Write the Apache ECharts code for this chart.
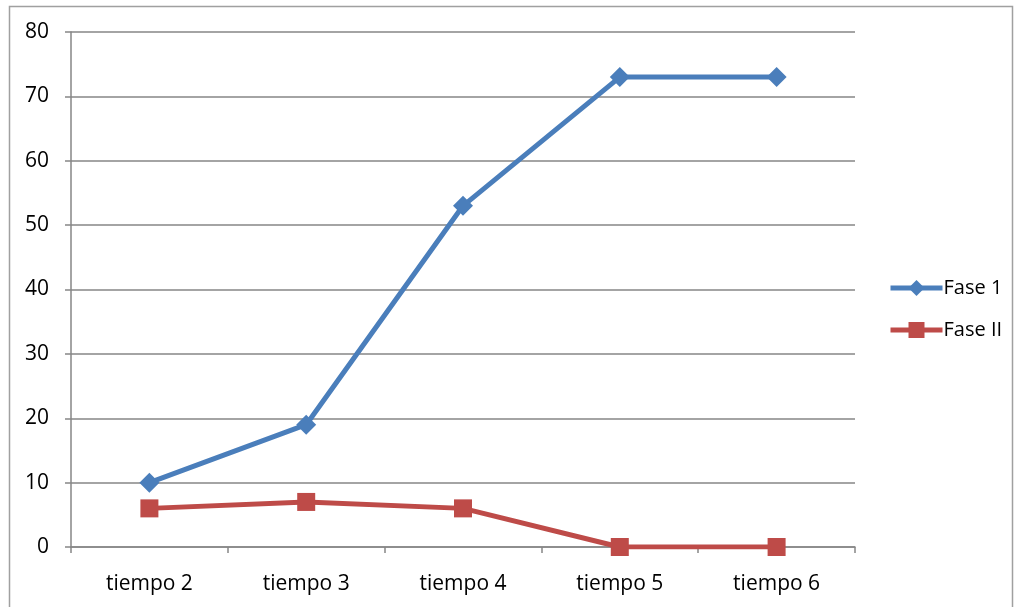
<!DOCTYPE html>
<html>
<head>
<meta charset="utf-8">
<script src="https://cdn.jsdelivr.net/npm/echarts@6/dist/echarts.min.js"></script>
<style>
  html, body { margin: 0; padding: 0; background: #fff; }
  #chart { width: 1015px; height: 607px; }
</style>
</head>
<body>
<div id="chart"></div>
<script>
var categories = ['tiempo 2', 'tiempo 3', 'tiempo 4', 'tiempo 5', 'tiempo 6'];
var fase1 = [10, 19, 53, 73, 73];
var fase2 = [6, 7, 6, 0, 0];

var font = '"Open Sans", Lato, sans-serif';
var axisGray = '#868686';
var blue = '#4a7ebb';
var red = '#be4b48';

var myChart = echarts.init(document.getElementById('chart'));

var option = {
  animation: false,
  textStyle: { fontFamily: font },
  graphic: [{
    type: 'rect',
    shape: { x: 9.5, y: 6.5, width: 1003, height: 620 },
    style: { fill: 'none', stroke: '#a0a0a0', lineWidth: 1.5 },
    silent: true
  }],
  grid: { left: 71, right: 160, top: 32, bottom: 60 },
  legend: {
    orient: 'vertical',
    left: 883,
    top: 273,
    itemWidth: 52,
    itemHeight: 20,
    itemGap: 22,
    textStyle: { fontFamily: font, fontSize: 20, color: '#000', padding: [0, 0, 0, -4] },
    data: [
      { name: 'Fase 1', lineStyle: { width: 5 } },
      { name: 'Fase II', lineStyle: { width: 5 } }
    ]
  },
  xAxis: {
    type: 'category',
    data: categories,
    boundaryGap: true,
    axisLine: { lineStyle: { color: axisGray, width: 1.5 } },
    axisTick: { show: true, length: 6, inside: false, lineStyle: { color: axisGray, width: 1.5 } },
    axisLabel: { fontFamily: font, fontSize: 21, color: '#000', margin: 27 }
  },
  yAxis: {
    type: 'value',
    min: 0,
    max: 80,
    interval: 10,
    axisLine: { show: true, lineStyle: { color: axisGray, width: 1.5 } },
    axisTick: { show: true, length: 6, lineStyle: { color: axisGray, width: 1.5 } },
    axisLabel: { fontFamily: font, fontSize: 21, color: '#000', margin: 22 },
    splitLine: { lineStyle: { color: axisGray, width: 1.5 } }
  },
  series: [{
    name: 'Fase 1',
    type: 'line',
    data: fase1,
    symbol: 'diamond',
    symbolSize: 20,
    lineStyle: { color: blue, width: 5 },
    itemStyle: { color: blue }
  }, {
    name: 'Fase II',
    type: 'line',
    data: fase2,
    symbol: 'rect',
    symbolSize: 18,
    lineStyle: { color: red, width: 5 },
    itemStyle: { color: red }
  }]
};

myChart.setOption(option);
</script>
</body>
</html>
